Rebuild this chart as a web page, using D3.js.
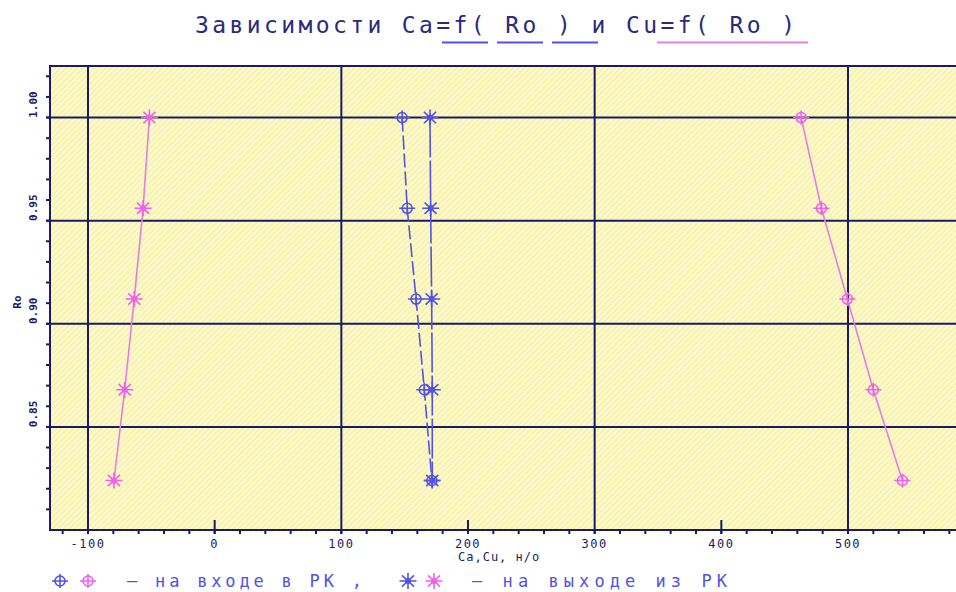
<!DOCTYPE html>
<html>
<head>
<meta charset="utf-8">
<script src="https://cdn.jsdelivr.net/npm/d3@7"></script>
<style>
  body { margin: 0; background: #fff; }
  text { font-family: "DejaVu Sans Mono", monospace; }
</style>
</head>
<body>
<svg id="chart" width="956" height="592"></svg>
<script>
// Ro values (y axis)
const ro = [1.00, 0.956, 0.912, 0.868, 0.824];
// Ca = f(Ro): inlet (cross markers) and outlet (star markers)
const caIn  = [148, 152, 159, 165.5, 171.5];
const caOut = [170, 170.5, 171.3, 171.8, 171.8];
// Cu = f(Ro)
const cuIn  = [463, 479, 499.5, 520, 543];
const cuOut = [-51.5, -56.5, -63.5, -71, -79.5];

const xTickLabels = [-100, 0, 100, 200, 300, 400, 500];
const xGrid = [-100, 100, 300, 500];
const yTickLabels = [1.00, 0.95, 0.90, 0.85];

const navy = '#1a1a66';
const blue = '#5252e6';
const pink = '#f060f0';
const pinkLine = '#e37ee3';

const svg = d3.select('#chart');

const x = d3.scaleLinear().domain([-130, 590]).range([50, 962]);
const y = d3.scaleLinear().domain([0.80, 1.025]).range([530, 66]);

// hatched yellow background
const defs = svg.append('defs');
const pat = defs.append('pattern')
    .attr('id', 'hatch')
    .attr('patternUnits', 'userSpaceOnUse')
    .attr('width', 4).attr('height', 4)
    .attr('patternTransform', 'rotate(45)');
pat.append('rect').attr('width', 4).attr('height', 4).attr('fill', '#f8f3a6');
pat.append('rect').attr('x', 0).attr('width', 1.6).attr('height', 4).attr('fill', '#fdfbe4');

svg.append('rect')
    .attr('x', x(-130)).attr('y', y(1.025))
    .attr('width', 956 - x(-130)).attr('height', y(0.80) - y(1.025))
    .attr('fill', 'url(#hatch)');

// gridlines
svg.selectAll('.vgrid').data(xGrid).enter().append('line')
    .attr('x1', d => x(d)).attr('x2', d => x(d))
    .attr('y1', y(1.025)).attr('y2', y(0.80) + 4)
    .attr('stroke', navy).attr('stroke-width', 2);
svg.selectAll('.hgrid').data(yTickLabels).enter().append('line')
    .attr('x1', x(-130) - 4).attr('x2', 956)
    .attr('y1', d => y(d)).attr('y2', d => y(d))
    .attr('stroke', navy).attr('stroke-width', 2);

// inward major ticks where no gridline
svg.selectAll('.mtick').data(xTickLabels.filter(d => !xGrid.includes(d))).enter().append('line')
    .attr('x1', d => x(d)).attr('x2', d => x(d))
    .attr('y1', y(0.80) - 10).attr('y2', y(0.80) + 4)
    .attr('stroke', navy).attr('stroke-width', 2);

// minor ticks
const xMinor = d3.range(-120, 591, 20);
svg.selectAll('.xminor').data(xMinor).enter().append('line')
    .attr('x1', d => x(d)).attr('x2', d => x(d))
    .attr('y1', y(0.80)).attr('y2', y(0.80) + 4)
    .attr('stroke', navy).attr('stroke-width', 2);
const yMinor = d3.range(81, 103).map(d => d / 100);
svg.selectAll('.yminor').data(yMinor).enter().append('line')
    .attr('x1', x(-130) - 4).attr('x2', x(-130))
    .attr('y1', d => y(d)).attr('y2', d => y(d))
    .attr('stroke', navy).attr('stroke-width', 2);

// axis frame (left, top, bottom)
svg.append('path')
    .attr('d', `M956,${y(1.025)}H${x(-130)}V${y(0.80)}H956`)
    .attr('fill', 'none').attr('stroke', navy).attr('stroke-width', 2);

// tick labels
svg.selectAll('.xlab').data(xTickLabels).enter().append('text')
    .attr('x', d => x(d)).attr('y', 548)
    .attr('text-anchor', 'middle')
    .attr('font-size', 12).attr('letter-spacing', 1.5)
    .attr('fill', navy)
    .text(d => d);
svg.selectAll('.ylab').data(yTickLabels).enter().append('text')
    .attr('transform', d => `translate(37,${y(d) - 13}) rotate(-90)`)
    .attr('text-anchor', 'middle')
    .attr('font-size', 11).attr('font-weight', 'bold')
    .attr('fill', navy)
    .text(d => d.toFixed(2));

// axis titles
svg.append('text')
    .attr('x', 458).attr('y', 561)
    .attr('font-size', 12).attr('letter-spacing', 1)
    .attr('fill', navy)
    .text('Ca,Cu, н/о');
svg.append('text')
    .attr('transform', 'translate(21,302) rotate(-90)')
    .attr('text-anchor', 'middle')
    .attr('font-size', 11).attr('font-weight', 'bold')
    .attr('fill', navy)
    .text('Ro');

// title
svg.append('text')
    .attr('x', 195).attr('y', 33)
    .attr('font-size', 23)
    .attr('textLength', 600).attr('lengthAdjust', 'spacing')
    .attr('fill', '#2a2a7e')
    .text('Зависимости Ca=f( Ro ) и Cu=f( Ro )');
svg.append('line')
    .attr('x1', 442).attr('x2', 601).attr('y1', 42.5).attr('y2', 42.5)
    .attr('stroke', blue).attr('stroke-width', 2)
    .attr('stroke-dasharray', '46,9');
svg.append('line')
    .attr('x1', 657).attr('x2', 808).attr('y1', 42.5).attr('y2', 42.5)
    .attr('stroke', pinkLine).attr('stroke-width', 2);

// markers
function crossMarker(g, cx, cy, color) {
    g.append('circle').attr('cx', cx).attr('cy', cy).attr('r', 5)
        .attr('fill', 'none').attr('stroke', color).attr('stroke-width', 1.6);
    g.append('path')
        .attr('d', `M${cx - 8},${cy}H${cx + 8}M${cx},${cy - 7}V${cy + 7}`)
        .attr('stroke', color).attr('stroke-width', 1.6);
}
function starMarker(g, cx, cy, color) {
    let d = '';
    for (let i = 0; i < 8; i++) {
        const a = i * Math.PI / 4;
        d += `M${cx},${cy}L${cx + 8.5 * Math.cos(a)},${cy + 8 * Math.sin(a)}`;
    }
    g.append('path').attr('d', d).attr('stroke', color).attr('stroke-width', 1.6);
    g.append('circle').attr('cx', cx).attr('cy', cy).attr('r', 3).attr('fill', color);
}

const series = [
    { vals: caIn,  color: blue, line: blue, dash: '14,4', marker: crossMarker },
    { vals: caOut, color: blue, line: blue, dash: '40,3', marker: starMarker },
    { vals: cuIn,  color: pink, line: pinkLine, dash: null, marker: crossMarker },
    { vals: cuOut, color: pink, line: pinkLine, dash: null, marker: starMarker }
];

const line = d3.line().x(d => x(d[0])).y(d => y(d[1]));

series.forEach(s => {
    const pts = s.vals.map((v, i) => [v, ro[i]]);
    svg.append('path')
        .datum(pts)
        .attr('d', line)
        .attr('fill', 'none')
        .attr('stroke', s.line)
        .attr('stroke-width', 1.6)
        .attr('stroke-dasharray', s.dash);
    const g = svg.append('g');
    pts.forEach(p => s.marker(g, x(p[0]), y(p[1]), s.color));
});

// legend
const lg = svg.append('g');
crossMarker(lg, 60, 581, blue);
crossMarker(lg, 88, 581, pink);
lg.append('text')
    .attr('x', 127).attr('y', 587)
    .attr('font-size', 17)
    .attr('textLength', 235).attr('lengthAdjust', 'spacing')
    .attr('fill', blue)
    .text('– на входе в РК ,');
starMarker(lg, 408, 581, blue);
starMarker(lg, 434, 581, pink);
lg.append('text')
    .attr('x', 472).attr('y', 587)
    .attr('font-size', 17)
    .attr('textLength', 255).attr('lengthAdjust', 'spacing')
    .attr('fill', blue)
    .text('– на выходе из РК');
</script>
</body>
</html>
